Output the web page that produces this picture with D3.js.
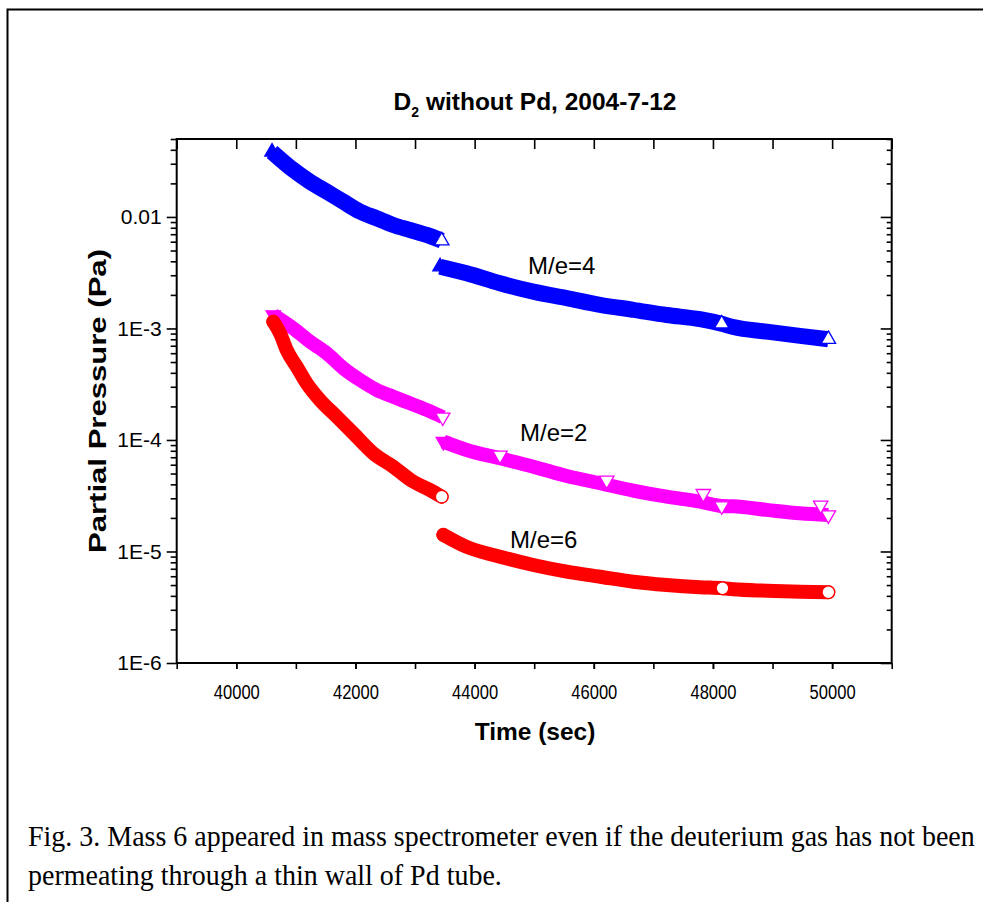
<!DOCTYPE html>
<html>
<head>
<meta charset="utf-8">
<script src="https://cdn.jsdelivr.net/npm/d3@7"></script>
<style>
  body { margin: 0; background: #fff; }
</style>
</head>
<body>
<div id="grafico"></div>
<script>
// Dados (tempo em s, pressao em Pa)
const m4Time1 = [40600, 40957, 41237, 41518, 41796, 42077, 42357, 42635, 42916, 43196, 43448];
const m4Val1  = [0.0383, 0.0264, 0.0207, 0.01687, 0.0137, 0.01116, 0.00973, 0.00848, 0.00764, 0.0069, 0.00613];
const m4Time2 = [43420, 43867, 44426, 44985, 45546, 46105, 46664, 47224, 47783, 48147, 48342, 48903, 49462, 49937];
const m4Val2  = [0.00358, 0.00313, 0.00254, 0.00214, 0.00187, 0.00163, 0.00147, 0.00132, 0.00121, 0.0011, 0.00103, 0.000936, 0.000857, 0.0008];

const m2Time1 = [40621, 40957, 41237, 41518, 41796, 42077, 42357, 42635, 42916, 43196, 43465];
const m2Val1  = [0.00132, 0.001, 0.000762, 0.000599, 0.00044, 0.000345, 0.000281, 0.000244, 0.000213, 0.000186, 0.00016];
const m2Time2 = [43475, 43867, 44426, 44985, 45546, 46105, 46664, 47224, 47783, 48147, 48342, 48903, 49462, 49937];
const m2Val2  = [9.66e-5, 8.13e-5, 6.85e-5, 5.76e-5, 4.75e-5, 4.09e-5, 3.51e-5, 3.10e-5, 2.80e-5, 2.56e-5, 2.54e-5, 2.36e-5, 2.20e-5, 2.12e-5];
// alguns pontos isolados acima da faixa M/e=2
const m2OutTime = [44426, 46217, 47838, 49808];
const m2OutVal  = [7.3e-5, 4.35e-5, 3.3e-5, 2.6e-5];

const m6Time1 = [40621, 40734, 40846, 41014, 41182, 41405, 41685, 41964, 42300, 42635, 42971, 43251, 43448];
const m6Val1  = [1.15e-3, 9.06e-4, 6.41e-4, 4.54e-4, 3.22e-4, 2.28e-4, 1.62e-4, 1.15e-4, 7.6e-5, 5.76e-5, 4.23e-5, 3.56e-5, 3.10e-5];
const m6Time2 = [43475, 43867, 44426, 44985, 45546, 46105, 46664, 47224, 47783, 48160, 48342, 48903, 49462, 49937];
const m6Val2  = [1.41e-5, 1.10e-5, 8.98e-6, 7.56e-6, 6.59e-6, 5.94e-6, 5.36e-6, 5.01e-6, 4.78e-6, 4.68e-6, 4.58e-6, 4.45e-6, 4.36e-6, 4.31e-6];

// Ticks
const xTicks      = [40000, 42000, 44000, 46000, 48000, 50000];
const yTickVals   = [1e-6, 1e-5, 1e-4, 1e-3, 1e-2];
const yTickLabels = ["1E-6", "1E-5", "1E-4", "1E-3", "0.01"];

// Rotulos das series
const seriesNames = ["M/e=4", "M/e=2", "M/e=6"];
const labelTime   = [44896, 44762, 44594];
const labelVal    = [3.1e-3, 0.97e-4, 1.07e-5];

const W = 983, H = 902;
const plot = { left: 176.7, right: 891.7, top: 139, bottom: 663 };
const sans = "Liberation Sans, Arial, sans-serif";

const svg = d3.select("#grafico")
              .append("svg")
              .attr("width", W)
              .attr("height", H)
              .attr("font-family", sans);

// Moldura da figura (so esquerda e topo aparecem)
svg.append("path")
   .attr("d", `M7.5,${H} L7.5,9.5 L${W},9.5`)
   .attr("fill", "none")
   .attr("stroke", "#000")
   .attr("stroke-width", 2);

const x = d3.scaleLinear().domain([39000, 51000]).range([plot.left, plot.right]);
const y = d3.scaleLog().domain([1e-6, 0.05]).range([plot.bottom, plot.top]);

// ticks menores do eixo log
const yMinor = [];
[1e-6, 1e-5, 1e-4, 1e-3, 1e-2].forEach(dec => {
    for (let k = 2; k <= 9; k++) {
        const v = dec * k;
        if (v <= 0.05) yMinor.push(v);
    }
});
const xMinor = d3.range(39000, 51001, 1000);

function styleAxis(g) {
    g.select(".domain").remove();
    g.selectAll(".tick line").attr("stroke", "#000").attr("stroke-width", 1.6);
    g.selectAll(".tick text")
     .attr("fill", "#000")
     .attr("font-family", sans);
}

// Eixo esquerdo
svg.append("g")
   .attr("transform", `translate(${plot.left},0)`)
   .call(d3.axisLeft(y).tickValues(yMinor).tickSize(6).tickFormat(""))
   .call(styleAxis);
svg.append("g")
   .attr("transform", `translate(${plot.left},0)`)
   .call(d3.axisLeft(y).tickValues(yTickVals).tickSize(10).tickPadding(5)
           .tickFormat((d, i) => yTickLabels[i]))
   .call(styleAxis)
   .selectAll(".tick text")
   .attr("font-size", "21px");

// Eixo direito (ticks para dentro)
svg.append("g")
   .attr("transform", `translate(${plot.right},0)`)
   .call(d3.axisRight(y).tickValues(yMinor).tickSize(-5).tickFormat(""))
   .call(styleAxis);
svg.append("g")
   .attr("transform", `translate(${plot.right},0)`)
   .call(d3.axisRight(y).tickValues(yTickVals).tickSize(-11).tickFormat(""))
   .call(styleAxis);

// Eixo inferior
svg.append("g")
   .attr("transform", `translate(0,${plot.bottom})`)
   .call(d3.axisBottom(x).tickValues(xMinor).tickSize(6).tickFormat(""))
   .call(styleAxis);
svg.append("g")
   .attr("transform", `translate(0,${plot.bottom})`)
   .call(d3.axisBottom(x).tickValues(xTicks).tickSize(6).tickPadding(16)
           .tickFormat(d3.format("d")))
   .call(styleAxis)
   .selectAll(".tick text")
   .attr("font-size", "20px")
   .attr("textLength", 46)
   .attr("lengthAdjust", "spacingAndGlyphs");

// Eixo superior (ticks para dentro)
svg.append("g")
   .attr("transform", `translate(0,${plot.top})`)
   .call(d3.axisTop(x).tickValues(xMinor).tickSize(-10).tickFormat(""))
   .call(styleAxis);

// Caixa do grafico
svg.append("rect")
   .attr("x", plot.left)
   .attr("y", plot.top)
   .attr("width", plot.right - plot.left)
   .attr("height", plot.bottom - plot.top)
   .attr("fill", "none")
   .attr("stroke", "#000")
   .attr("stroke-width", 2);

// Series
const series = [
    { color: "#0000ff", sym: "up",   cap: "butt",  w: 16, segs: [[m4Time1, m4Val1], [m4Time2, m4Val2]], gap: 9 },
    { color: "#ff00ff", sym: "down", cap: "butt",  w: 14, segs: [[m2Time1, m2Val1], [m2Time2, m2Val2]], gap: 9 },
    { color: "#ff0000", sym: "circ", cap: "round", w: 14, segs: [[m6Time1, m6Val1], [m6Time2, m6Val2]], gap: 9 }
];

const line = d3.line()
               .x(d => x(d[0]))
               .y(d => y(d[1]))
               .curve(d3.curveMonotoneX);

const tri  = d3.symbol().type(d3.symbolTriangle).size(90);
const circ = d3.symbol().type(d3.symbolCircle).size(125);

function marker(g, s, t, v, open) {
    const p = g.append("path")
               .attr("d", s.sym === "circ" ? circ() : tri())
               .attr("fill", open ? "#fff" : s.color)
               .attr("stroke", s.color)
               .attr("stroke-width", 1.3);
    let tr = `translate(${x(t)},${y(v)})`;
    if (s.sym === "down") tr += " rotate(180)";
    p.attr("transform", tr);
}

const gData = svg.append("g");
series.forEach(s => {
    s.segs.forEach((seg, si) => {
        const pts = seg[0].map((t, i) => [t, seg[1][i]]);
        gData.append("path")
             .datum(pts)
             .attr("d", line)
             .attr("fill", "none")
             .attr("stroke", s.color)
             .attr("stroke-width", s.w)
             .attr("stroke-linecap", s.cap);
        // primeiro ponto cheio, ultimo aberto
        marker(gData, s, pts[0][0], pts[0][1], false);
        if (si === 1) marker(gData, s, pts[s.gap][0], pts[s.gap][1], true);
        const last = pts[pts.length - 1];
        marker(gData, s, last[0], last[1], true);
    });
});

// pontos isolados M/e=2
const sM2 = series[1];
m2OutTime.forEach((t, i) => marker(gData, sM2, t, m2OutVal[i], true));

// Rotulos das series
seriesNames.forEach((n, i) => {
    svg.append("text")
       .attr("x", x(labelTime[i]))
       .attr("y", y(labelVal[i]))
       .attr("font-size", "24px")
       .attr("fill", "#000")
       .text(n);
});

// Titulo
const title = svg.append("text")
   .attr("x", 535)
   .attr("y", 110)
   .attr("text-anchor", "middle")
   .attr("font-size", "24.5px")
   .attr("font-weight", "bold");
title.append("tspan").text("D");
title.append("tspan").attr("font-size", "14px").attr("dy", 7).text("2");
title.append("tspan").attr("dy", -7).text(" without Pd, 2004-7-12");

// Label do eixo x
svg.append("text")
   .attr("x", 535)
   .attr("y", 740)
   .attr("text-anchor", "middle")
   .attr("font-size", "24.5px")
   .attr("font-weight", "bold")
   .text("Time (sec)");

// Label do eixo y
svg.append("text")
   .attr("transform", `translate(106,${(plot.top + plot.bottom) / 2}) rotate(-90)`)
   .attr("text-anchor", "middle")
   .attr("font-size", "24px")
   .attr("font-weight", "bold")
   .attr("textLength", 304)
   .attr("lengthAdjust", "spacingAndGlyphs")
   .text("Partial Pressure (Pa)");

// Legenda da figura
const capLines = [
    "Fig. 3. Mass 6 appeared in mass spectrometer even if the deuterium gas has not been",
    "permeating through a thin wall of Pd tube."
];
const capTexts = capLines.map((c, i) =>
    svg.append("text")
       .attr("transform", `translate(28,${846 + i * 39})`)
       .attr("font-family", "Liberation Serif, Times New Roman, serif")
       .attr("font-size", "29px")
       .attr("fill", "#000")
       .text(c));
// ajusta largura da primeira linha para 947px, mesma compressao na segunda
const sx = 947 / capTexts[0].node().getComputedTextLength();
capTexts.forEach((t, i) => t.attr("transform", `translate(28,${846 + i * 39}) scale(${sx},1)`));
</script>
</body>
</html>
